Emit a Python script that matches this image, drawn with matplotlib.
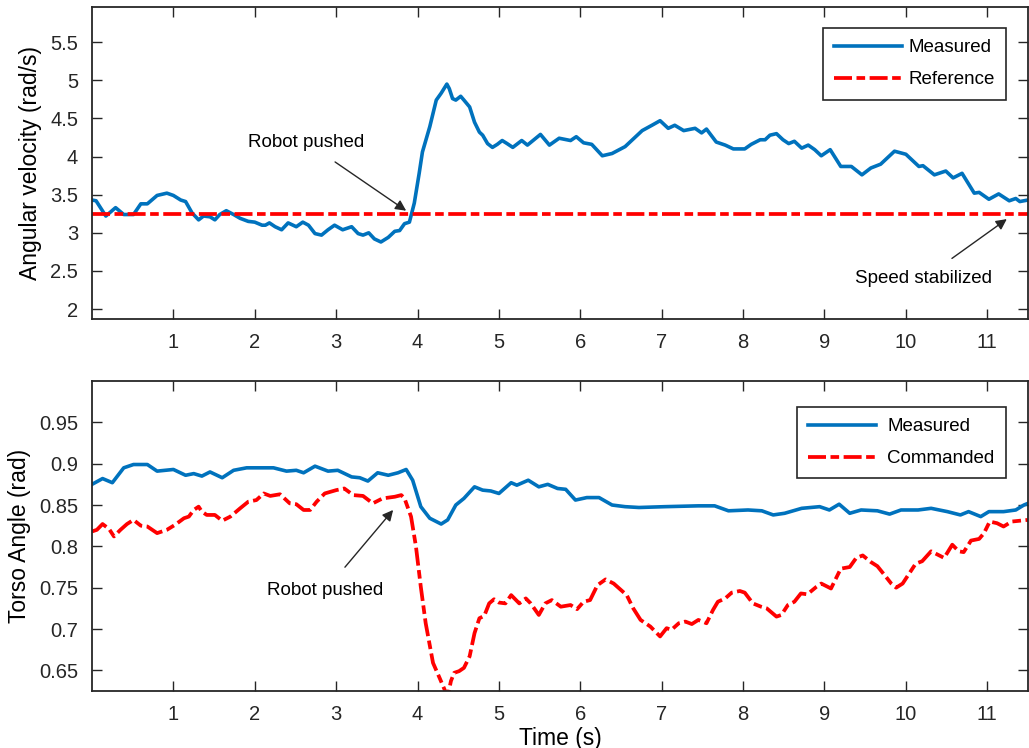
import matplotlib
matplotlib.use("Agg")
import matplotlib.pyplot as plt
import numpy as np

plt.rcParams['font.family'] = ['Liberation Sans', 'DejaVu Sans']

# 上图：角速度 (rad/s)
t_vel = [0.0, 0.05, 0.17, 0.29, 0.39, 0.51, 0.60, 0.68, 0.80, 0.92, 1.00, 1.09, 1.15, 1.23,
         1.31, 1.37, 1.45, 1.51, 1.57, 1.65, 1.74, 1.82, 1.92, 2.00, 2.09, 2.13, 2.18, 2.25,
         2.33, 2.41, 2.51, 2.59, 2.66, 2.74, 2.82, 2.90, 2.98, 3.08, 3.19, 3.27, 3.33, 3.40,
         3.47, 3.55, 3.64, 3.72, 3.78, 3.84, 3.90, 3.96, 4.02, 4.06, 4.15, 4.23, 4.29, 4.36,
         4.39, 4.43, 4.47, 4.53, 4.57, 4.64, 4.70, 4.76, 4.80, 4.86, 4.92, 4.98, 5.04, 5.10,
         5.17, 5.28, 5.35, 5.51, 5.62, 5.74, 5.88, 5.95, 6.04, 6.14, 6.27, 6.39, 6.55, 6.66,
         6.76, 6.88, 6.98, 7.08, 7.16, 7.27, 7.41, 7.49, 7.55, 7.67, 7.78, 7.88, 8.02, 8.10,
         8.21, 8.27, 8.33, 8.41, 8.49, 8.56, 8.63, 8.72, 8.80, 8.88, 8.96, 9.07, 9.20, 9.33,
         9.46, 9.57, 9.69, 9.86, 10.00, 10.16, 10.21, 10.35, 10.49, 10.58, 10.69, 10.84,
         10.90, 11.02, 11.14, 11.27, 11.35, 11.40, 11.50]
vel_measured = [3.43, 3.42, 3.22, 3.33, 3.24, 3.24, 3.38, 3.38, 3.49, 3.52, 3.49, 3.43, 3.41, 3.26,
                3.17, 3.22, 3.21, 3.17, 3.24, 3.29, 3.24, 3.19, 3.15, 3.14, 3.10, 3.10, 3.13, 3.08,
                3.04, 3.13, 3.08, 3.14, 3.10, 2.99, 2.97, 3.04, 3.10, 3.04, 3.08, 2.99, 2.97, 3.00,
                2.92, 2.88, 2.94, 3.02, 3.03, 3.12, 3.14, 3.39, 3.78, 4.06, 4.39, 4.74, 4.83, 4.95,
                4.89, 4.76, 4.74, 4.79, 4.74, 4.65, 4.45, 4.32, 4.28, 4.17, 4.12, 4.16, 4.21, 4.17,
                4.12, 4.21, 4.15, 4.29, 4.15, 4.24, 4.21, 4.26, 4.18, 4.16, 4.01, 4.04, 4.13, 4.24,
                4.34, 4.41, 4.47, 4.37, 4.41, 4.34, 4.37, 4.31, 4.36, 4.19, 4.15, 4.10, 4.10, 4.16,
                4.22, 4.22, 4.28, 4.30, 4.22, 4.17, 4.20, 4.11, 4.15, 4.09, 4.01, 4.09, 3.87, 3.87,
                3.76, 3.85, 3.90, 4.07, 4.03, 3.87, 3.88, 3.76, 3.81, 3.72, 3.78, 3.52,
                3.53, 3.44, 3.51, 3.42, 3.45, 3.41, 3.43]
vel_reference = 3.25

# 下图：躯干角度 (rad)
t_meas = [0.0, 0.13, 0.25, 0.39, 0.51, 0.68, 0.80, 1.00, 1.15, 1.25, 1.35, 1.45, 1.60, 1.74,
          1.90, 2.06, 2.23, 2.39, 2.51, 2.60, 2.74, 2.90, 3.02, 3.19, 3.29, 3.39, 3.51, 3.64,
          3.76, 3.86, 3.94, 4.04, 4.15, 4.29, 4.37, 4.47, 4.57, 4.70, 4.80, 4.90, 5.00, 5.15,
          5.22, 5.36, 5.49, 5.60, 5.72, 5.82, 5.94, 6.08, 6.23, 6.39, 6.55, 6.72, 7.04, 7.45,
          7.65, 7.82, 8.06, 8.23, 8.37, 8.51, 8.72, 8.94, 9.06, 9.18, 9.31, 9.45, 9.65, 9.80,
          9.94, 10.15, 10.31, 10.51, 10.67, 10.77, 10.92, 11.02, 11.20, 11.35, 11.45, 11.50]
angle_measured = [0.875, 0.882, 0.877, 0.895, 0.899, 0.899, 0.891, 0.893, 0.886, 0.888, 0.885,
                  0.890, 0.883, 0.892, 0.895, 0.895, 0.895, 0.891, 0.892, 0.889, 0.897, 0.891,
                  0.892, 0.884, 0.883, 0.879, 0.889, 0.886, 0.889, 0.893, 0.880, 0.848, 0.834,
                  0.827, 0.832, 0.850, 0.858, 0.872, 0.868, 0.867, 0.864, 0.877, 0.874, 0.880,
                  0.872, 0.875, 0.870, 0.869, 0.856, 0.859, 0.859, 0.850, 0.848, 0.847, 0.848,
                  0.849, 0.849, 0.843, 0.844, 0.843, 0.838, 0.840, 0.846, 0.848, 0.844, 0.851,
                  0.840, 0.844, 0.843, 0.839, 0.844, 0.844, 0.846, 0.842, 0.838, 0.842, 0.836,
                  0.842, 0.842, 0.844, 0.850, 0.852]

t_cmd = [0.0, 0.06, 0.13, 0.21, 0.27, 0.35, 0.43, 0.51, 0.60, 0.68, 0.80, 0.92, 1.02, 1.13,
         1.19, 1.25, 1.31, 1.35, 1.41, 1.51, 1.60, 1.70, 1.82, 1.92, 2.02, 2.11, 2.19, 2.31,
         2.43, 2.51, 2.60, 2.68, 2.76, 2.86, 3.00, 3.10, 3.21, 3.33, 3.45, 3.57, 3.72, 3.80,
         3.84, 3.92, 3.98, 4.04, 4.10, 4.19, 4.27, 4.33, 4.37, 4.41, 4.45, 4.51, 4.57, 4.64,
         4.70, 4.76, 4.82, 4.88, 4.94, 5.00, 5.08, 5.15, 5.25, 5.33, 5.39, 5.49, 5.57, 5.65,
         5.76, 5.88, 5.96, 6.04, 6.12, 6.21, 6.31, 6.41, 6.57, 6.65, 6.74, 6.86, 6.98, 7.06,
         7.12, 7.21, 7.29, 7.37, 7.45, 7.55, 7.63, 7.69, 7.78, 7.86, 7.96, 8.02, 8.12, 8.22,
         8.29, 8.41, 8.47, 8.55, 8.63, 8.71, 8.79, 8.90, 8.96, 9.02, 9.08, 9.14, 9.20, 9.31,
         9.39, 9.47, 9.57, 9.65, 9.74, 9.82, 9.88, 9.96, 10.04, 10.12, 10.20, 10.31, 10.39,
         10.47, 10.57, 10.65, 10.71, 10.80, 10.90, 10.96, 11.03, 11.12, 11.20, 11.30, 11.40,
         11.50]
angle_commanded = [0.818, 0.820, 0.827, 0.821, 0.812, 0.820, 0.827, 0.832, 0.825, 0.824, 0.816,
                   0.820, 0.826, 0.834, 0.836, 0.844, 0.848, 0.842, 0.838, 0.838, 0.831, 0.836,
                   0.846, 0.854, 0.856, 0.864, 0.861, 0.863, 0.852, 0.851, 0.844, 0.844, 0.854,
                   0.864, 0.868, 0.870, 0.862, 0.861, 0.852, 0.858, 0.860, 0.862, 0.858, 0.836,
                   0.800, 0.751, 0.707, 0.659, 0.641, 0.627, 0.618, 0.637, 0.647, 0.649, 0.653,
                   0.667, 0.695, 0.713, 0.716, 0.731, 0.736, 0.732, 0.731, 0.741, 0.731, 0.737,
                   0.731, 0.717, 0.731, 0.735, 0.727, 0.729, 0.724, 0.733, 0.735, 0.753, 0.760,
                   0.755, 0.741, 0.725, 0.711, 0.703, 0.691, 0.701, 0.699, 0.707, 0.709, 0.706,
                   0.711, 0.707, 0.723, 0.733, 0.737, 0.744, 0.746, 0.744, 0.731, 0.727, 0.725,
                   0.715, 0.717, 0.729, 0.733, 0.743, 0.742, 0.751, 0.755, 0.752, 0.749, 0.761,
                   0.773, 0.775, 0.786, 0.789, 0.781, 0.776, 0.765, 0.755, 0.750, 0.755, 0.767,
                   0.779, 0.782, 0.794, 0.790, 0.786, 0.802, 0.794, 0.793, 0.807, 0.809, 0.816,
                   0.830, 0.828, 0.824, 0.830, 0.831, 0.832]

BLUE = '#0072BD'
RED = '#FF0000'
DASHDOT = (4.8, 1.2, 2.3, 1.2)
TICK_FS = 14.5
LABEL_FS = 16.5
NOTE_FS = 13.5
LEG_FS = 13.5

fig = plt.figure(figsize=(10.29, 7.48), dpi=100)
ax1 = fig.add_axes([0.0894, 0.5735, 0.9096, 0.4171])
ax2 = fig.add_axes([0.0894, 0.0762, 0.9096, 0.4144])

# 上图
ax1.plot(t_vel, vel_measured, color=BLUE, lw=2.6, label='Measured')
ax1.plot([0, 11.5], [vel_reference, vel_reference], color=RED, lw=2.7,
         dashes=DASHDOT, label='Reference')
ax1.set_xlim(0, 11.5)
ax1.set_ylim(1.87, 5.96)
ax1.set_yticks([2, 2.5, 3, 3.5, 4, 4.5, 5, 5.5])
ax1.set_yticklabels(['2', '2.5', '3', '3.5', '4', '4.5', '5', '5.5'])
ax1.set_ylabel('Angular velocity (rad/s)', fontsize=LABEL_FS, labelpad=6)
ax1.annotate('Robot pushed', xy=(3.86, 3.29), xytext=(2.63, 4.19),
             ha='center', va='center', fontsize=NOTE_FS,
             arrowprops=dict(arrowstyle='-|>', color='#262626', lw=1.0,
                             shrinkA=11, shrinkB=0, mutation_scale=16))
ax1.annotate('Speed stabilized', xy=(11.24, 3.18), xytext=(10.22, 2.40),
             ha='center', va='center', fontsize=NOTE_FS,
             arrowprops=dict(arrowstyle='-|>', color='#262626', lw=1.0,
                             shrinkA=11, shrinkB=0, mutation_scale=16))
leg1 = ax1.legend(loc='upper right', bbox_to_anchor=(0.9774, 0.9626),
                  bbox_transform=fig.transFigure, borderaxespad=0,
                  fontsize=LEG_FS, handlelength=3.6, handletextpad=0.35, fancybox=False,
                  edgecolor='#262626', framealpha=1, borderpad=0.6, labelspacing=0.8)
leg1.get_frame().set_linewidth(1.2)

# 下图
ax2.plot(t_meas, angle_measured, color=BLUE, lw=2.6, label='Measured')
ax2.plot(t_cmd, angle_commanded, color=RED, lw=2.7, dashes=DASHDOT, label='Commanded')
ax2.set_xlim(0, 11.5)
ax2.set_ylim(0.625, 1.0)
ax2.set_yticks([0.65, 0.7, 0.75, 0.8, 0.85, 0.9, 0.95])
ax2.set_yticklabels(['0.65', '0.7', '0.75', '0.8', '0.85', '0.9', '0.95'])
ax2.set_ylabel('Torso Angle (rad)', fontsize=LABEL_FS, labelpad=6)
ax2.set_xlabel('Time (s)', fontsize=LABEL_FS, labelpad=2)
ax2.annotate('Robot pushed', xy=(3.70, 0.844), xytext=(2.87, 0.747),
             ha='center', va='center', fontsize=NOTE_FS,
             arrowprops=dict(arrowstyle='-|>', color='#262626', lw=1.0,
                             shrinkA=11, shrinkB=0, mutation_scale=16))
leg2 = ax2.legend(loc='upper right', bbox_to_anchor=(0.9774, 0.4563),
                  bbox_transform=fig.transFigure, borderaxespad=0,
                  fontsize=LEG_FS, handlelength=3.6, handletextpad=0.6, fancybox=False,
                  edgecolor='#262626', framealpha=1, borderpad=0.6, labelspacing=0.8)
leg2.get_frame().set_linewidth(1.2)

for ax in (ax1, ax2):
    ax.set_xticks(range(1, 12))
    ax.tick_params(direction='in', length=7, width=1, top=True, right=True,
                   labelsize=TICK_FS, colors='#262626', pad=10)
    for s in ax.spines.values():
        s.set_linewidth(1.3)
        s.set_color('#262626')

fig.savefig('out.png', dpi=100)
